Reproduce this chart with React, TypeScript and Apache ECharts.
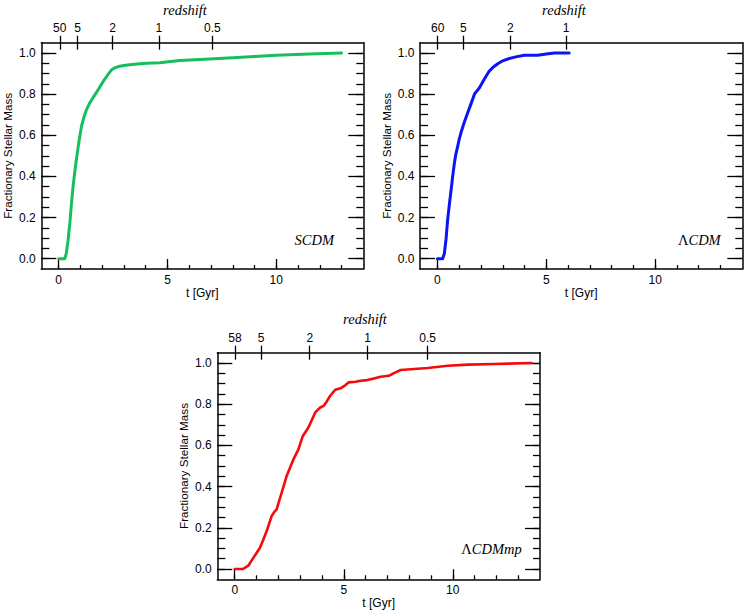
import React, { useEffect, useRef } from "react";
import * as echarts from "echarts";

// ---- data ----
const T_SCDM = [0, 0.28, 0.35, 0.43, 0.51, 0.58, 0.66, 0.73, 0.81, 0.89, 0.97, 1.05, 1.15, 1.28, 1.43, 1.58, 1.73, 1.92, 2.11, 2.27, 2.42, 2.58, 2.73, 3.0, 3.26, 3.6, 4.03, 4.64, 5.56, 6.5, 8.0, 9.0, 10.0, 11.5, 13.0];
const F_SCDM = [0, 0, 0.026, 0.09, 0.17, 0.26, 0.35, 0.415, 0.48, 0.54, 0.595, 0.645, 0.685, 0.725, 0.758, 0.783, 0.807, 0.84, 0.872, 0.896, 0.917, 0.928, 0.934, 0.939, 0.943, 0.946, 0.95, 0.953, 0.963, 0.968, 0.977, 0.983, 0.989, 0.995, 1.0];

const T_LCDM = [0, 0.24, 0.32, 0.4, 0.47, 0.55, 0.63, 0.7, 0.78, 0.85, 0.93, 1.0, 1.08, 1.23, 1.39, 1.55, 1.7, 1.93, 2.15, 2.38, 2.57, 2.77, 3.0, 3.3, 3.6, 3.99, 4.6, 5.0, 5.37, 6.05];
const F_LCDM = [0, 0, 0.026, 0.1, 0.19, 0.265, 0.335, 0.4, 0.465, 0.51, 0.546, 0.58, 0.612, 0.662, 0.709, 0.755, 0.8, 0.831, 0.872, 0.912, 0.932, 0.948, 0.962, 0.973, 0.981, 0.989, 0.989, 0.995, 1.0, 1.0];

const T_LCDMMP = [0, 0.38, 0.62, 0.85, 1.0, 1.15, 1.3, 1.46, 1.69, 1.8, 1.92, 2.15, 2.38, 2.69, 2.92, 3.11, 3.38, 3.69, 3.92, 4.08, 4.2, 4.38, 4.61, 4.85, 5.08, 5.23, 5.54, 5.77, 6.08, 6.38, 6.69, 7.07, 7.3, 7.61, 8.23, 8.85, 9.77, 10.7, 11.92, 13.61];
const F_LCDMMP = [0, 0, 0.016, 0.054, 0.078, 0.102, 0.14, 0.183, 0.256, 0.275, 0.289, 0.37, 0.451, 0.532, 0.581, 0.643, 0.687, 0.76, 0.784, 0.792, 0.81, 0.841, 0.87, 0.877, 0.893, 0.906, 0.909, 0.914, 0.917, 0.925, 0.933, 0.938, 0.951, 0.966, 0.971, 0.976, 0.987, 0.992, 0.995, 1.0];

const Z_SCDM_LABELS = ["50", "5", "2", "1", "0.5"];
const Z_SCDM_T = [0.05, 0.87, 2.48, 4.6, 7.06];
const Z_LCDM_LABELS = ["60", "5", "2", "1"];
const Z_LCDM_T = [0.01, 1.19, 3.35, 5.91];
const Z_LCDMMP_LABELS = ["58", "5", "2", "1", "0.5"];
const Z_LCDMMP_T = [0.01, 1.21, 3.44, 6.09, 8.85];

const T_MAJOR = [0, 5, 10];
const T_MINOR = [0, 1, 2, 3, 4, 5, 6, 7, 8, 9, 10, 11, 12, 13];
const Y_MAJOR = [0, 0.2, 0.4, 0.6, 0.8, 1.0];
const Y_MINOR = [0, 0.05, 0.1, 0.15, 0.2, 0.25, 0.3, 0.35, 0.4, 0.45, 0.5, 0.55, 0.6, 0.65, 0.7, 0.75, 0.8, 0.85, 0.9, 0.95, 1.0];

// model label: [upright prefix, italic rest]
const MODEL_PREFIX = ["", "\u039B", "\u039B"];
const MODEL_REST = ["SCDM", "CDM", "CDMmp"];
const X_NAME = "t [Gyr]";
const Y_NAME = "Fractionary Stellar Mass";
const TOP_NAME = "redshift";

const SANS = "Liberation Sans, Arial, Helvetica, sans-serif";
const SERIF = "Liberation Serif, Times New Roman, serif";

export default function App() {
  const ref = useRef<HTMLDivElement>(null);

  useEffect(() => {
    if (!ref.current) return;
    const chart = echarts.init(ref.current, undefined, { renderer: "svg" });

    const panels = [
      { grid: { left: 41.3, top: 42.7, width: 322, height: 226.3 }, color: "#16bf5b", lw: 3, t: T_SCDM, f: F_SCDM, zl: Z_SCDM_LABELS, zt: Z_SCDM_T, titleX: 185, titleY: 10, labX: 334, labY: 240 },
      { grid: { left: 420, top: 42.7, width: 322.3, height: 226.3 }, color: "#0a14f5", lw: 3, t: T_LCDM, f: F_LCDM, zl: Z_LCDM_LABELS, zt: Z_LCDM_T, titleX: 564, titleY: 10, labX: 720.7, labY: 240 },
      { grid: { left: 217.3, top: 352.7, width: 322.7, height: 226.6 }, color: "#f50a0a", lw: 2.6, t: T_LCDMMP, f: F_LCDMMP, zl: Z_LCDMMP_LABELS, zt: Z_LCDMMP_T, titleX: 365, titleY: 318.5, labX: 521.7, labY: 548.5 },
    ];

    const lineStyle = { color: "#000", width: 1.5 };
    const tickStyle = { color: "#000", width: 1.3 };
    const labelBase = { color: "#000", fontSize: 12, fontFamily: SANS };

    const grids: any[] = [];
    const xAxes: any[] = [];
    const yAxes: any[] = [];
    const series: any[] = [];
    const graphics: any[] = [];

    panels.forEach((p, i) => {
      grids.push({ ...p.grid, containLabel: false });
      const xBase = xAxes.length;
      const yBase = yAxes.length;
      const xCommon = { gridIndex: i, type: "value", min: -0.8, max: 14, splitLine: { show: false } };
      const yCommon = { gridIndex: i, type: "value", min: -0.05, max: 1.05, splitLine: { show: false } };

      xAxes.push({
        ...xCommon,
        position: "bottom",
        axisLine: { show: true, onZero: false, lineStyle },
        axisTick: { show: true, inside: true, length: 10, customValues: T_MAJOR, lineStyle: tickStyle },
        axisLabel: { show: true, customValues: T_MAJOR, margin: 5, ...labelBase },
        name: X_NAME,
        nameLocation: "middle",
        nameGap: 18,
        nameTextStyle: { ...labelBase },
      });
      xAxes.push({
        ...xCommon,
        position: "bottom",
        axisLine: { show: false, onZero: false },
        axisTick: { show: true, inside: true, length: 4, customValues: T_MINOR, lineStyle: tickStyle },
        axisLabel: { show: false },
      });
      const zl = p.zl;
      const zt = p.zt;
      xAxes.push({
        ...xCommon,
        position: "top",
        axisLine: { show: true, onZero: false, lineStyle },
        axisTick: { show: true, inside: false, length: 7, customValues: zt, lineStyle: tickStyle },
        axisLabel: {
          show: true,
          customValues: zt,
          margin: 9,
          ...labelBase,
          formatter: (v: number) => {
            const k = zt.findIndex((x) => Math.abs(x - v) < 1e-6);
            return k >= 0 ? zl[k] : "";
          },
        },
      });
      xAxes.push({
        ...xCommon,
        position: "top",
        axisLine: { show: false, onZero: false },
        axisTick: { show: true, inside: true, length: 7, customValues: zt, lineStyle: tickStyle },
        axisLabel: { show: false },
      });

      yAxes.push({
        ...yCommon,
        position: "left",
        axisLine: { show: true, onZero: false, lineStyle },
        axisTick: { show: true, inside: true, length: 15, customValues: Y_MAJOR, lineStyle: tickStyle },
        axisLabel: { show: true, customValues: Y_MAJOR, margin: 5.5, ...labelBase, formatter: (v: number) => v.toFixed(1) },
        name: Y_NAME,
        nameLocation: "middle",
        nameGap: 28,
        nameTextStyle: { ...labelBase, fontSize: 11.7 },
      });
      yAxes.push({
        ...yCommon,
        position: "left",
        axisLine: { show: false, onZero: false },
        axisTick: { show: true, inside: true, length: 8, customValues: Y_MINOR, lineStyle: tickStyle },
        axisLabel: { show: false },
      });
      yAxes.push({
        ...yCommon,
        position: "right",
        axisLine: { show: true, onZero: false, lineStyle },
        axisTick: { show: true, inside: true, length: 15, customValues: Y_MAJOR, lineStyle: tickStyle },
        axisLabel: { show: false },
      });
      yAxes.push({
        ...yCommon,
        position: "right",
        axisLine: { show: false, onZero: false },
        axisTick: { show: true, inside: true, length: 7, customValues: Y_MINOR, lineStyle: tickStyle },
        axisLabel: { show: false },
      });

      series.push({
        type: "line",
        name: MODEL_PREFIX[i] + MODEL_REST[i],
        xAxisIndex: xBase,
        yAxisIndex: yBase,
        data: p.t.map((t, k) => [t, p.f[k]]),
        showSymbol: false,
        symbol: "none",
        smooth: false,
        lineStyle: { color: p.color, width: p.lw, join: "round", cap: "round" },
        itemStyle: { color: p.color },
        z: 3,
      });

      graphics.push({
        type: "text",
        x: p.titleX,
        y: p.titleY,
        style: { text: TOP_NAME, fill: "#000", font: `italic 14.5px ${SERIF}`, textAlign: "center", textVerticalAlign: "middle" },
      });
      const txt = (MODEL_PREFIX[i] ? `{u|${MODEL_PREFIX[i]}}` : "") + `{it|${MODEL_REST[i]}}`;
      graphics.push({
        type: "text",
        x: p.labX,
        y: p.labY,
        style: {
          text: txt,
          fill: "#000",
          textAlign: "right",
          textVerticalAlign: "middle",
          rich: {
            u: { fontFamily: SERIF, fontSize: 14.5, fontStyle: "normal", fill: "#000", color: "#000" },
            it: { fontFamily: SERIF, fontSize: 14.5, fontStyle: "italic", fill: "#000", color: "#000" },
          },
        },
      });
    });

    chart.setOption({
      animation: false,
      backgroundColor: "#fff",
      grid: grids,
      xAxis: xAxes,
      yAxis: yAxes,
      series,
      graphic: graphics,
    });

    return () => chart.dispose();
  }, []);

  return <div ref={ref} style={{ position: "absolute", left: 0, top: 0, width: 747, height: 611 }} />;
}
